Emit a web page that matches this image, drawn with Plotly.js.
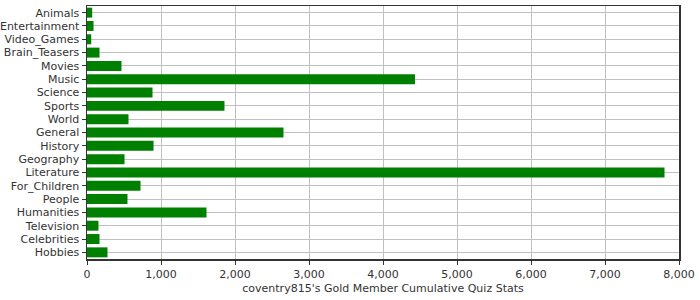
<!DOCTYPE html>
<html>
<head>
<meta charset="utf-8">
<script src="https://cdn.plot.ly/plotly-3.0.1.min.js"></script>
<style>html,body{margin:0;padding:0;background:#fff;}#chart{width:700px;height:300px;}</style>
</head>
<body>
<div id="chart"></div>
<script>
const categories = ["Animals","Entertainment","Video_Games","Brain_Teasers","Movies","Music","Science","Sports","World","General","History","Geography","Literature","For_Children","People","Humanities","Television","Celebrities","Hobbies"];
const values = [70, 88, 57, 169, 466, 4432, 885, 1858, 561, 2655, 899, 507, 7804, 723, 547, 1615, 155, 169, 277];
const xTickVals = [0,1000,2000,3000,4000,5000,6000,7000,8000];
const xTickText = ["0","1,000","2,000","3,000","4,000","5,000","6,000","7,000","8,000"];
const xTitle = "coventry815's Gold Member Cumulative Quiz Stats";

const trace = {
  type: 'bar',
  orientation: 'h',
  y: categories,
  x: values,
  marker: {color: '#008000', line: {width: 0}},
  hoverinfo: 'x+y'
};
const layout = {
  width: 700, height: 300,
  margin: {l: 87, r: 21, t: 6, b: 41, pad: 0},
  paper_bgcolor: '#ffffff',
  plot_bgcolor: '#ffffff',
  font: {family: 'DejaVu Sans, sans-serif', size: 11, color: '#333333'},
  bargap: 0.25,
  showlegend: false,
  xaxis: {
    range: [0, 8000],
    tickvals: xTickVals,
    ticktext: xTickText,
    showgrid: true, gridcolor: '#c0c0c0', gridwidth: 1,
    zeroline: false,
    showline: true, linecolor: '#333333', linewidth: 1.5, mirror: true,
    ticks: 'outside', ticklen: 4, tickcolor: '#333333',
    tickfont: {size: 11, color: '#333333'},
    title: {text: xTitle, font: {size: 11, color: '#333333'}, standoff: 4}
  },
  yaxis: {
    type: 'category',
    range: [18.5, -0.5],
    showgrid: true, gridcolor: '#c0c0c0', gridwidth: 1,
    showline: true, linecolor: '#333333', linewidth: 1.5, mirror: true,
    ticks: 'outside', ticklen: 4, tickcolor: '#333333',
    tickfont: {size: 11, color: '#333333'},
    automargin: false
  }
};
Plotly.newPlot('chart', [trace], layout, {staticPlot: true, displayModeBar: false});
</script>
</body>
</html>
